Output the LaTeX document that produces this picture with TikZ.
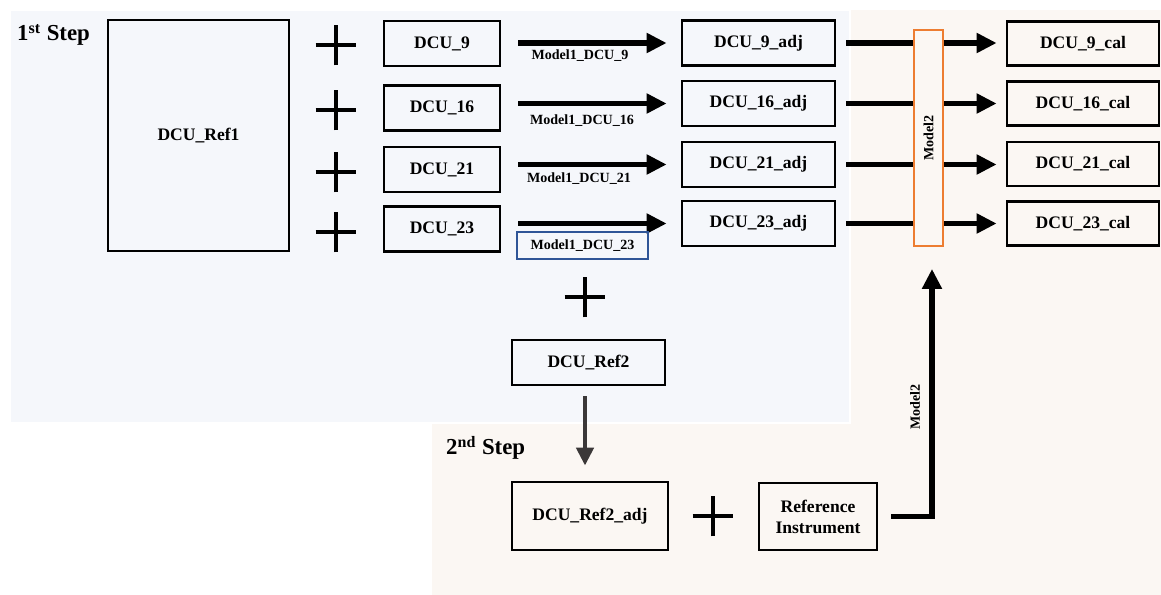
\documentclass[tikz,border=0pt]{standalone}
\usepackage{fontspec}
\setmainfont{Liberation Serif}
\usetikzlibrary{arrows.meta,shapes.misc,calc}

\definecolor{steponebg}{RGB}{245,247,251}
\definecolor{steptwobg}{RGB}{251,247,243}
\definecolor{modelorange}{RGB}{237,125,49}
\definecolor{labelblue}{RGB}{47,85,151}
\definecolor{darkgrey}{RGB}{59,56,56}

\tikzset{
  box/.style={draw, line width=1.6pt, inner sep=0pt, align=center, font=\bfseries\fontsize{10}{12}\selectfont},
  mlabel/.style={font=\bfseries\fontsize{8}{9.6}\selectfont, inner sep=1pt},
  steplabel/.style={anchor=west, font=\bfseries\fontsize{13}{15}\selectfont},
  plussign/.style={draw, cross out, rotate=45, minimum size=0.5cm, inner sep=0pt, line width=2.2pt},
  thickline/.style={line width=3.4pt},
  thickarrow/.style={line width=3.4pt, -{Triangle[length=0.4cm,width=0.38cm]}},
}

\begin{document}
\begin{tikzpicture}[x=0.02cm, y=-0.02cm]
  \useasboundingbox (0,0) rectangle (1161,595);

  % the two steps
  \fill[steptwobg] (432,10) rectangle (1161,595);
  \fill[steponebg, draw=white, line width=1.2pt] (10,10) rectangle (850,423);

  \node[steplabel] (stepone) at (11,35) {1\textsuperscript{st} Step};
  \node[steplabel] (steptwo) at (440,448) {2\textsuperscript{nd} Step};

  % first step
  \node[box, minimum width=3.62cm, minimum height=4.62cm] (ref1) at (198.5,135.5) {DCU\_Ref1};

  \node[plussign] (p9) at (336,45) {};
  \node[plussign] (p16) at (336,110) {};
  \node[plussign] (p21) at (336,172) {};
  \node[plussign] (p23) at (336,232) {};

  \node[box, minimum width=2.32cm, minimum height=0.9cm] (d9) at (442,43.5) {DCU\_9};
  \node[box, minimum width=2.32cm, minimum height=0.9cm] (d16) at (442,108) {DCU\_16};
  \node[box, minimum width=2.32cm, minimum height=0.9cm] (d21) at (442,169.5) {DCU\_21};
  \node[box, minimum width=2.32cm, minimum height=0.9cm] (d23) at (442,229) {DCU\_23};

  \node[box, minimum width=3.06cm, minimum height=0.9cm] (a9) at (758.5,43) {DCU\_9\_adj};
  \node[box, minimum width=3.06cm, minimum height=0.9cm] (a16) at (758.5,103.5) {DCU\_16\_adj};
  \node[box, minimum width=3.06cm, minimum height=0.9cm] (a21) at (758.5,164.5) {DCU\_21\_adj};
  \node[box, minimum width=3.06cm, minimum height=0.9cm] (a23) at (758.5,223.5) {DCU\_23\_adj};

  \draw[thickarrow, shorten <=0.34cm, shorten >=0.28cm] (d9.east |- a9.west) -- (a9.west);
  \draw[thickarrow, shorten <=0.34cm, shorten >=0.28cm] (d16.east |- a16.west) -- (a16.west);
  \draw[thickarrow, shorten <=0.34cm, shorten >=0.28cm] (d21.east |- a21.west) -- (a21.west);
  \draw[thickarrow, shorten <=0.34cm, shorten >=0.28cm] (d23.east |- a23.west) -- (a23.west);

  \node[mlabel] (m9) at (580,56) {Model1\_DCU\_9};
  \node[mlabel] (m16) at (582,121) {Model1\_DCU\_16};
  \node[mlabel] (m21) at (579,179) {Model1\_DCU\_21};
  \node[mlabel, draw=labelblue, line width=0.9pt, minimum width=2.62cm, minimum height=0.54cm] (m23) at (582.5,245.5) {Model1\_DCU\_23};

  \node[plussign] (pref2) at (585,297) {};
  \node[box, minimum width=3.06cm, minimum height=0.9cm] (ref2) at (588.5,362.5) {DCU\_Ref2};

  % model 2
  \node[draw=modelorange, line width=1.1pt, fill=steptwobg, minimum width=0.58cm, minimum height=4.32cm] (model2) at (928.5,138) {};
  \node[mlabel, rotate=90] (model2text) at (model2) {Model2};

  \node[box, minimum width=3.04cm, minimum height=0.88cm] (c9) at (1083,43.5) {DCU\_9\_cal};
  \node[box, minimum width=3.04cm, minimum height=0.88cm] (c16) at (1083,103.5) {DCU\_16\_cal};
  \node[box, minimum width=3.04cm, minimum height=0.88cm] (c21) at (1083,164) {DCU\_21\_cal};
  \node[box, minimum width=3.04cm, minimum height=0.88cm] (c23) at (1083,223.5) {DCU\_23\_cal};

  \draw[thickline, shorten <=0.2cm] (a9.east) -- (a9.east -| model2.west);
  \draw[thickline, shorten <=0.2cm] (a16.east) -- (a16.east -| model2.west);
  \draw[thickline, shorten <=0.2cm] (a21.east) -- (a21.east -| model2.west);
  \draw[thickline, shorten <=0.2cm] (a23.east) -- (a23.east -| model2.west);

  \draw[thickarrow, shorten >=0.18cm] (a9.east -| model2.east) -- (a9.east -| c9.west);
  \draw[thickarrow, shorten >=0.18cm] (a16.east -| model2.east) -- (a16.east -| c16.west);
  \draw[thickarrow, shorten >=0.18cm] (a21.east -| model2.east) -- (a21.east -| c21.west);
  \draw[thickarrow, shorten >=0.18cm] (a23.east -| model2.east) -- (a23.east -| c23.west);

  % second step
  \node[box, minimum width=3.12cm, minimum height=1.36cm] (ref2adj) at (590,516) {DCU\_Ref2\_adj};
  \node[plussign] (pinst) at (713,516) {};
  \node[box, minimum width=2.36cm, minimum height=1.34cm] (refinst) at (818,516.5) {Reference\\Instrument};

  \draw[darkgrey, line width=2.8pt, -{Triangle[length=0.36cm,width=0.34cm]}, shorten <=0.2cm, shorten >=0.3cm] ([xshift=-0.07cm]ref2.south) -- ([xshift=-0.07cm]ref2.south |- ref2adj.north);

  \draw[thickarrow, shorten <=0.26cm, shorten >=0.44cm] (refinst.east) -| ([xshift=0.07cm]model2.south);
  \node[mlabel, rotate=90] (model2note) at (915,407) {Model2};
\end{tikzpicture}
\end{document}
